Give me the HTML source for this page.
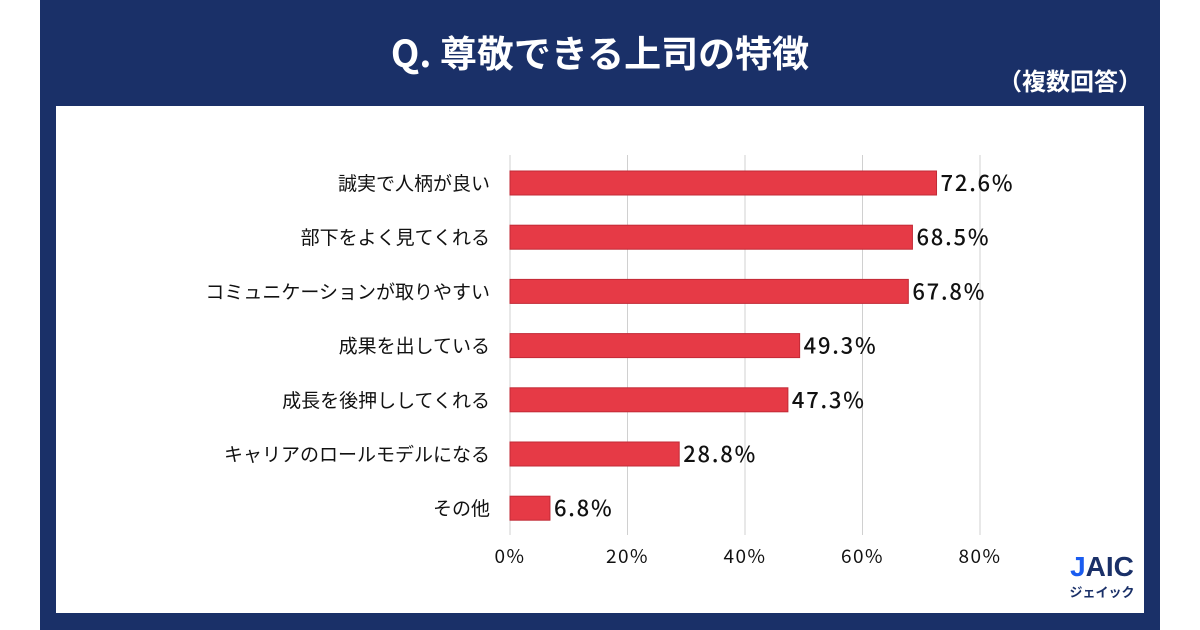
<!DOCTYPE html>
<html><head><meta charset="utf-8"><style>
body{margin:0;width:1200px;height:630px;background:#fff;position:relative;overflow:hidden;font-family:"Noto Sans CJK JP",sans-serif}
#frame{position:absolute;left:40px;top:0;width:1120px;height:630px;background:#1a3068}
#panel{position:absolute;left:56px;top:106px;width:1088px;height:507px;background:#fff}
#title{position:absolute;left:0;width:1200px;top:26px;text-align:center;color:#fff;font-size:37px;font-weight:bold;line-height:50px}
#sub{position:absolute;right:58px;top:62px;color:#fff;font-size:24px;font-weight:bold;line-height:36px}
svg{position:absolute;left:0;top:0;font-family:"Noto Sans CJK JP",sans-serif}
</style></head><body>
<div id="frame"></div>
<div id="panel"></div>
<div id="title">Q. 尊敬できる上司の特徴</div>
<div id="sub">（複数回答）</div>
<svg id="chart" width="1200" height="630"></svg>
<script>
const categories=["誠実で人柄が良い","部下をよく見てくれる","コミュニケーションが取りやすい","成果を出している","成長を後押ししてくれる","キャリアのロールモデルになる","その他"];
const values=[72.6,68.5,67.8,49.3,47.3,28.8,6.8];
const ticks=[0,20,40,60,80];
const NS="http://www.w3.org/2000/svg";
const svg=document.getElementById('chart');
const x=v=>510+v*5.875;
const y=i=>183+i*54.2;
function mk(t,a){const e=document.createElementNS(NS,t);for(const k in a)e.setAttribute(k,a[k]);svg.appendChild(e);return e;}
ticks.forEach(t=>{
 const l=mk('line',{x1:x(t),x2:x(t),y1:155,y2:535,stroke:'#d0d0d0','stroke-width':1});
 
 
 const tx=mk('text',{x:x(t),y:563,'text-anchor':'middle','font-size':19,'letter-spacing':1.5,fill:'#111'});
 tx.textContent=t+'%';
 
 
});
categories.forEach((c,i)=>{
 const r=mk('rect',{x:510,y:y(i)-12,width:x(values[i])-510,height:24,fill:'#e63a46',stroke:'#c22a36','stroke-width':1});
 
 
 const lb=mk('text',{x:490,y:y(i)+7,'text-anchor':'end','font-size':19,fill:'#111'});
 lb.textContent=c;
 
 
 const v=mk('text',{x:x(values[i])+4,y:y(i)+8,'font-size':22,'font-weight':500,'letter-spacing':1.8,fill:'#111'});
 v.textContent=values[i].toFixed(1)+'%';
 
 
});
</script>
<div style="position:absolute;left:1062px;top:551px;width:80px;text-align:center">
<div style="font-size:28px;font-weight:bold;color:#1a3068;line-height:32px;font-family:'Liberation Sans',sans-serif"><span style="color:#1a5cf0">J</span>AIC</div>
<div style="font-size:13px;font-weight:bold;color:#1a3068;line-height:18px">ジェイック</div>
</div>
</body></html>
